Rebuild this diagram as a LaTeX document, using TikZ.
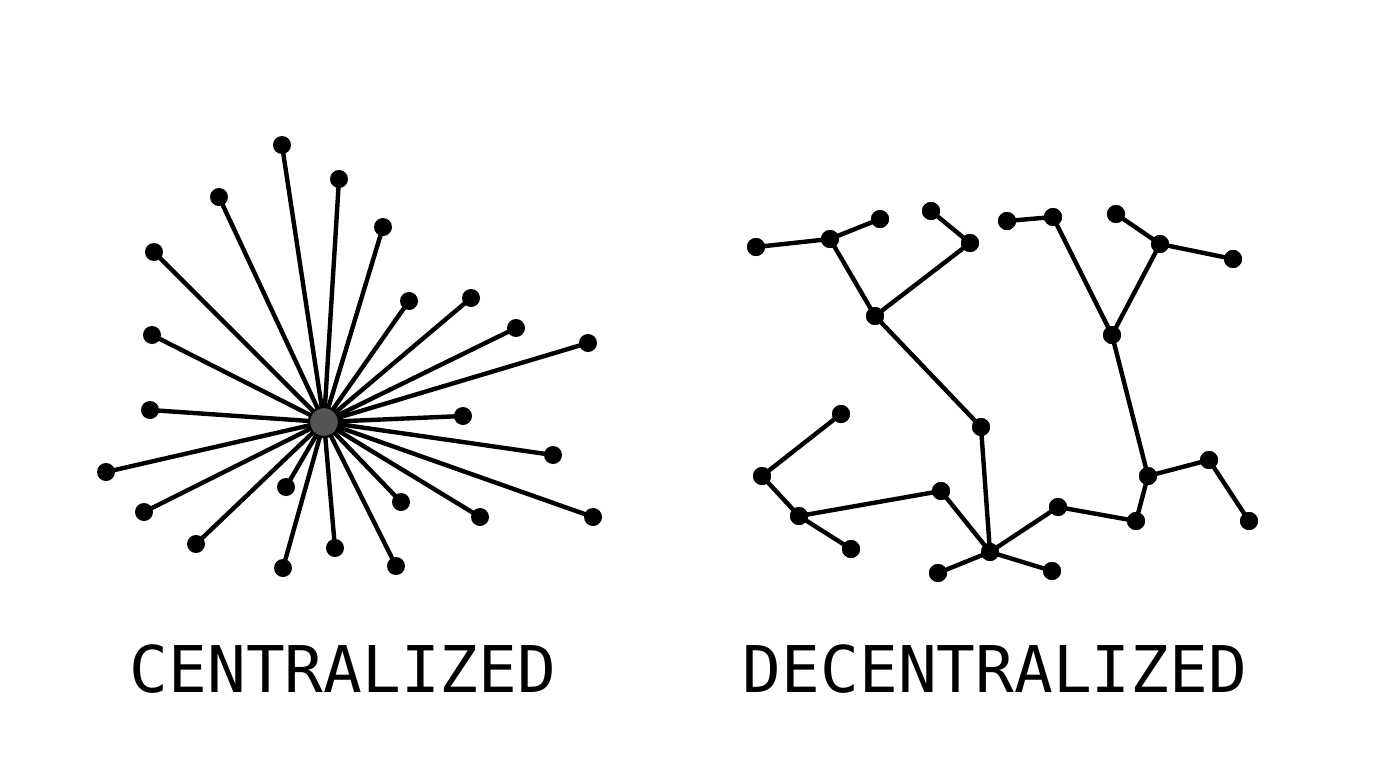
\documentclass[tikz,border=0pt]{standalone}
\usepackage{fontspec}
\newfontfamily\labelfont{DejaVu Sans Mono}
\begin{document}
\begin{tikzpicture}[x=0.5pt,y=-0.5pt,
  dot/.style={circle,fill=black,draw=none,minimum size=9pt,inner sep=0pt},
  hub/.style={circle,fill=black!67,draw=black,line width=1.1pt,minimum size=15pt,inner sep=0pt},
  edge/.style={line width=2.2pt,black},
  lbl/.style={font=\labelfont\fontsize{32.2pt}{36pt}\selectfont,anchor=base,inner sep=0pt}]
\useasboundingbox (0,0) rectangle (1394,766);
\fill[white] (0,0) rectangle (1394,766);
% centralized
\coordinate (H) at (324,422);
\foreach \i/\x/\y in {1/282/145,2/339/179,3/219/197,4/383/227,5/154/252,6/409/301,7/471/298,8/152/335,9/516/328,10/588/343,11/150/410,12/463/416,13/553/455,14/106/472,15/286/487,16/401/502,17/144/512,18/480/517,19/593/517,20/196/544,21/335/548,22/283/568,23/396/566}{
  \node[dot] (c\i) at (\x,\y) {};
  \draw[edge] (H) -- (c\i.center);
}
\node[hub] (hub) at (H) {};
% decentralized
\foreach \n/\x/\y in {a/756/247,b/830/239,c/880/219,d/931/211,e/970/243,f/875/316,g/981/427,h/1007/221,i/1053/217,j/1116/214,k/1160/244,l/1233/259,m/1112/335,n/1148/476,o/1209/460,p/1249/521,q/1136/521,r/1058/507,s/990/552,t/938/573,u/1052/571,v/941/491,w/799/516,x/851/549,y/762/476,z/841/414}{
  \node[dot] (d\n) at (\x,\y) {};
}
\foreach \u/\v in {a/b,b/c,b/f,d/e,e/f,f/g,g/s,h/i,i/m,j/k,k/l,k/m,m/n,n/o,o/p,n/q,q/r,r/s,s/t,s/u,s/v,v/w,w/x,w/y,y/z}{
  \draw[edge] (d\u.center) -- (d\v.center);
}
\foreach \n in {a,b,c,d,e,f,g,h,i,j,k,l,m,n,o,p,q,r,s,t,u,v,w,x,y,z}{
  \fill (d\n) circle (4.5pt);
}
\node[lbl] (t1) at (343,692) {CENTRALIZED};
\node[lbl] (t2) at (995,692) {DECENTRALIZED};
\end{tikzpicture}
\end{document}
